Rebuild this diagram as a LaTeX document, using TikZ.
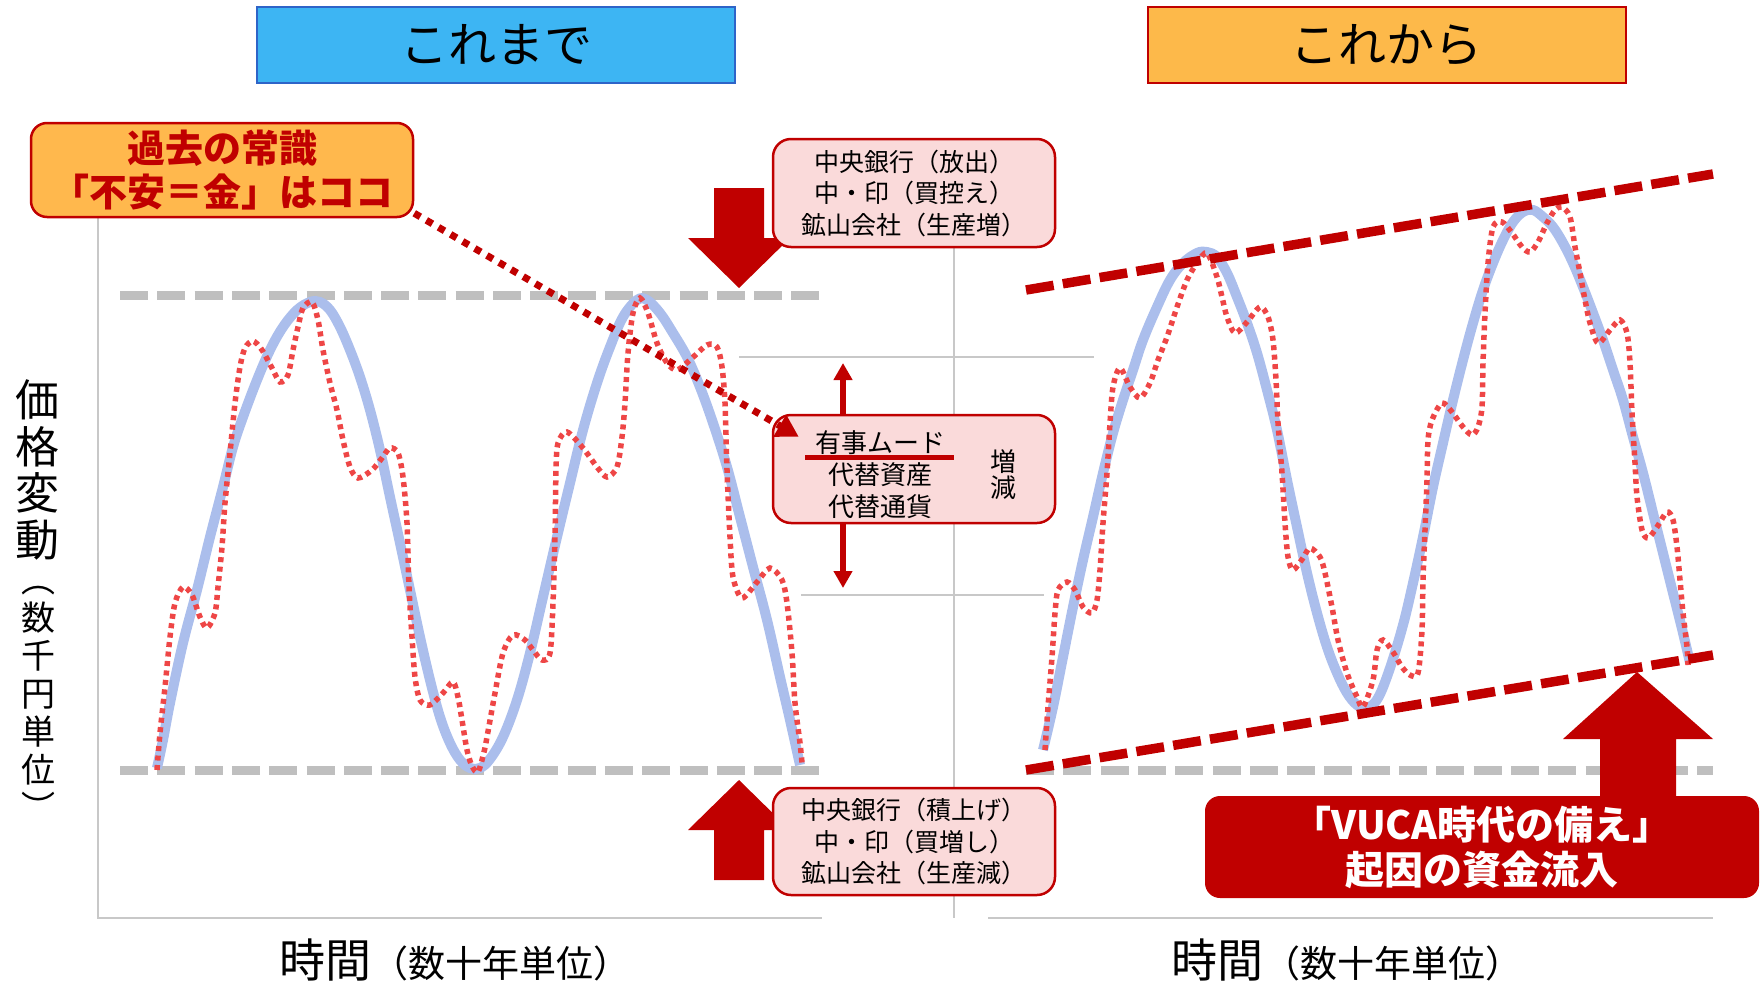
\documentclass[tikz,border=0pt]{standalone}
\usepackage{fontspec}
\setmainfont{Noto Sans CJK JP}
\usetikzlibrary{arrows.meta}
\definecolor{dred}{HTML}{C00000}
\definecolor{wred}{HTML}{EE4646}
\definecolor{wblue}{HTML}{ABBEEC}
\definecolor{lgray}{HTML}{BFBFBF}
\definecolor{axgray}{HTML}{C8C8C8}
\definecolor{pinkf}{HTML}{FADADA}
\definecolor{skyf}{HTML}{3DB5F3}
\definecolor{skyb}{HTML}{2E64C8}
\definecolor{orgf}{HTML}{FDB94A}
\definecolor{calf}{HTML}{FFB84D}
\begin{document}
\begin{tikzpicture}[x=1pt,y=-1pt,
  axis/.style={draw=axgray, line width=1.5pt},
  gdash/.style={draw=lgray, line width=9pt, dash pattern=on 28pt off 9.3pt},
  rdash/.style={draw=dred, line width=9.5pt, dash pattern=on 28pt off 9.3pt},
  wave/.style={draw=wblue, line width=10pt},
  wiggle/.style={draw=wred, line width=5.5pt, dash pattern=on 5pt off 4.5pt},
  pinkbox/.style={draw=dred, line width=2.5pt, fill=pinkf, rounded corners=18pt, inner sep=0pt, align=center, minimum width=282pt},
  titlebox/.style={line width=2pt, inner sep=0pt, minimum width=478pt, minimum height=76pt, font=\fontsize{48}{56}\selectfont},
  pointer/.style={draw=dred, line width=7pt, dash pattern=on 7pt off 7pt, -{Triangle[length=22pt,width=24pt]}},
  thinarrow/.style={draw=dred, line width=6pt, -{Triangle[length=17pt,width=18pt]}},
  block/.style={fill=dred}
]
\useasboundingbox (0,0) rectangle (1760,982);

% axes and grid
\draw[axis] (98,200) -- (98,918) -- (822,918);
\draw[axis] (988,918) -- (1713,918);
\draw[axis] (954,200) -- (954,918);
\draw[axis] (739,357) -- (1094,357);
\draw[axis] (801,595) -- (1044,595);

% gray reference lines
\draw[gdash] (120,295) -- (819,295);
\draw[gdash] (120,770) -- (819,770);
\draw[gdash] (1026,770) -- (1713,770);

% blue waves
\draw[wave] plot[smooth, tension=0.6] coordinates {
(157,768) (163,740) (170,703) (183,643) (197,590) (210,537) (223,487) (233,447) (243,417) (257,380) (270,350) (283,327) (297,310) (310,302) (320,302) (330,310) (340,327) (350,350) (360,377) (370,410) (380,450) (390,497) (400,543) (410,590) (420,637) (430,680) (440,717) (450,743) (460,760) (470,768) (480,768) (490,759) (503,737) (517,700) (530,653) (543,597) (557,537) (570,483) (583,430) (597,383) (610,347) (623,317) (637,300) (647,300) (660,313) (673,333) (687,357) (700,387) (713,423) (727,467) (740,517) (753,567) (767,620) (780,677) (790,720) (800,765)};
\draw[wave] plot[smooth, tension=0.6] coordinates {
(1043,750) (1053,707) (1063,657) (1073,607) (1083,560) (1093,517) (1103,473) (1113,433) (1123,400) (1133,370) (1143,340) (1157,307) (1170,280) (1183,263) (1197,253) (1207,252) (1217,257) (1227,273) (1237,297) (1247,323) (1257,353) (1267,390) (1277,430) (1287,480) (1297,527) (1307,573) (1317,613) (1327,647) (1337,673) (1347,693) (1357,705) (1367,708) (1378,698) (1390,668) (1403,625) (1413,583) (1423,537) (1433,487) (1443,443) (1453,400) (1463,360) (1473,323) (1483,290) (1493,263) (1503,240) (1513,222) (1523,212) (1533,210) (1543,217) (1553,227) (1563,243) (1573,263) (1583,287) (1593,313) (1603,340) (1613,370) (1623,400) (1633,437) (1643,473) (1653,513) (1663,553) (1673,593) (1683,633) (1690,663)};

% red wiggles
\draw[wiggle] plot[smooth, tension=0.5] coordinates {
(157,770) (160,733) (165,687) (170,637) (175,603) (183,587) (192,595) (200,617) (207,628) (215,613) (218,587) (222,547) (225,503) (230,453) (235,403) (240,367) (245,348) (253,341) (262,350) (272,368) (280,382) (288,375) (293,350) (298,327) (303,308) (312,302) (318,320) (323,350) (330,383) (337,410) (343,440) (350,467) (358,478) (372,470) (382,458) (390,448) (398,453) (403,477) (407,523) (409,587) (412,637) (415,677) (420,700) (430,705) (443,693) (453,682) (458,697) (462,720) (467,750) (472,766) (478,772) (484,752) (487,737) (495,693) (503,653) (513,635) (525,640) (533,650) (542,660) (550,653) (553,603) (555,537) (556,470) (558,443) (567,432) (583,448) (597,467) (607,477) (617,467) (622,437) (625,403) (628,353) (633,313) (640,298) (648,313) (657,343) (667,363) (677,370) (690,360) (707,345) (717,347) (722,367) (725,403) (727,470) (730,537) (733,577) (742,598) (757,582) (770,568) (782,580) (787,603) (792,653) (795,703) (800,743) (802,763)};
\draw[wiggle] plot[smooth, tension=0.5] coordinates {
(1045,750) (1048,707) (1052,657) (1055,613) (1058,590) (1067,582) (1075,590) (1083,607) (1092,613) (1097,600) (1100,570) (1103,523) (1107,473) (1110,423) (1113,387) (1120,368) (1130,387) (1140,398) (1150,383) (1158,360) (1167,337) (1177,307) (1187,280) (1197,263) (1207,253) (1217,277) (1222,297) (1227,317) (1235,333) (1247,322) (1260,307) (1268,317) (1273,340) (1276,380) (1278,423) (1282,473) (1285,523) (1288,557) (1293,570) (1303,558) (1310,548) (1320,557) (1325,573) (1332,607) (1338,640) (1347,673) (1357,697) (1363,707) (1373,680) (1377,650) (1383,640) (1393,652) (1402,667) (1410,675) (1418,673) (1422,630) (1423,580) (1425,530) (1427,480) (1428,440) (1432,420) (1442,403) (1452,412) (1463,427) (1472,435) (1478,427) (1482,407) (1483,363) (1485,313) (1488,263) (1493,227) (1502,222) (1512,233) (1522,247) (1530,252) (1538,242) (1547,223) (1555,210) (1562,207) (1570,217) (1575,247) (1580,273) (1585,300) (1590,323) (1598,343) (1610,330) (1620,320) (1627,333) (1630,363) (1632,413) (1635,463) (1637,497) (1642,530) (1648,538) (1657,527) (1667,512) (1673,520) (1677,547) (1680,580) (1683,613) (1687,647) (1688,665)};

% red trend lines
\draw[rdash] (1026,290) -- (1713,174);
\draw[rdash] (1026,770) -- (1713,655);

% titles
\node[titlebox, draw=skyb, fill=skyf] (tA) at (496,45) {これまで};
\node[titlebox, draw=dred, fill=orgf] (tB) at (1386.5,45) {これから};

% block arrows
\fill[block] (714,188) -- (764,188) -- (764,238) -- (790,238) -- (739,288) -- (688,238) -- (714,238) -- cycle;
\fill[block] (714,880) -- (764,880) -- (764,830) -- (790,830) -- (739,780) -- (688,830) -- (714,830) -- cycle;
\fill[block] (1600,800) -- (1676,800) -- (1676,739) -- (1713,739) -- (1637,672) -- (1563,739) -- (1600,739) -- cycle;

% pink boxes
\node[pinkbox, minimum height=108pt, font=\fontsize{25}{31.5}\selectfont] (tbox) at (914,193) {中央銀行（放出）\\中・印（買控え）\\鉱山会社（生産増）};
\node[pinkbox, minimum height=108pt] (mbox) at (914,469) {};
\node[pinkbox, minimum height=107pt, font=\fontsize{25}{31.5}\selectfont] (bbox) at (914,841.5) {中央銀行（積上げ）\\中・印（買増し）\\鉱山会社（生産減）};
\node[align=center, inner sep=0pt, font=\fontsize{26}{32}\selectfont] (mtext) at (880,475) {有事ムード\\代替資産\\代替通貨};
\node[align=center, inner sep=0pt, font=\fontsize{26}{26}\selectfont] (mside) at (1003,475) {増\\減};
\draw[dred, line width=5pt] (805,457) -- (954,457);

% up/down thin arrows
\coordinate (upx) at (843,0);
\coordinate (uptip) at (843,363);
\coordinate (dntip) at (843,588);
\draw[thinarrow] (mbox.north -| upx) -- (uptip);
\draw[thinarrow] (mbox.south -| upx) -- (dntip);

% callout
\node[draw=dred, line width=2.5pt, fill=calf, rounded corners=16pt, minimum width=382pt, minimum height=94pt, inner sep=0pt, align=center, text=dred, font=\bfseries\fontsize{38}{44}\selectfont] (callout) at (222,170) {過去の常識\\「不安＝金」はココ};
\draw[pointer] ([yshift=5pt]callout.south east) -- ([xshift=27pt,yshift=-23pt]mbox.north west);

% VUCA box
\node[fill=dred, rounded corners=15pt, minimum width=554pt, minimum height=102pt, inner sep=0pt, align=center, text=white, font=\bfseries\fontsize{39}{45}\selectfont] (vuca) at (1482,847) {「VUCA時代の備え」\\起因の資金流入};

% axis labels
\node[align=center, inner sep=0pt, font=\fontsize{44}{46.5}\selectfont] (ylab) at (37,470) {価\\格\\変\\動};
\node[align=center, inner sep=0pt, font=\fontsize{34}{38}\selectfont] (yunit) at (38,703) {︵\\数\\千\\円\\単\\位\\︶};
\node[inner sep=0pt] (xlabA) at (455,960) {\fontsize{46}{50}\selectfont 時間\fontsize{37}{40}\selectfont（数十年単位）};
\node[inner sep=0pt] (xlabB) at (1347,960) {\fontsize{46}{50}\selectfont 時間\fontsize{37}{40}\selectfont（数十年単位）};
\end{tikzpicture}
\end{document}
